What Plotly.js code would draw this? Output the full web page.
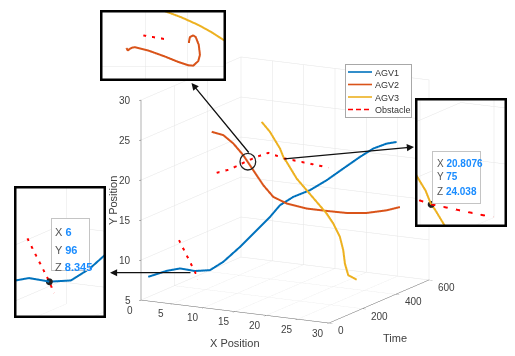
<!DOCTYPE html>
<html><head><meta charset="utf-8">
<script src="https://cdn.plot.ly/plotly-3.0.1.min.js"></script>
<style>html,body{margin:0;padding:0;background:#fff}#chart{width:515px;height:356px}</style>
</head><body><div id="chart"></div>
<script>
// ---------------- data (x = X Position, t = Time, y = Y Position) ----------------
const agv1_x = [1.16,3.09,4.47,5.53,6.0,7.45,8.66,10.24,11.79,13.03,13.96,15.2,16.75,18.33,19.86,21.42,22.65,23.9,24.83];
const agv1_t = [0,38,66,86,96,134,168,209,251,284,309,342,384,425,467,508,542,575,600];
const agv1_y = [8.02,8.61,8.79,8.50,8.345,8.25,9.10,10.75,12.61,14.09,15.42,16.28,16.89,17.92,19.15,20.38,21.24,21.68,21.75];

const agv2_x = [11.28,12.14,12.89,13.63,14.37,15.15,15.89,16.91,18.4,19.89,21.37,22.86,24.38,25.36];
const agv2_t = [0,37,69,101,133,164,196,238,302,366,430,494,557,600];
const agv2_y = [27.11,26.45,25.19,23.51,21.42,19.34,17.66,16.55,15.49,14.76,14.07,13.64,13.55,13.67];

const agv3_x = [19.25,20.02,20.71,20.81,20.95,21.22,21.88,22.55,23.21,23.47,23.44,22.91,22.11,21.71,22.7];
const agv3_t = [0,21,55,75,86,136,171,206,241,271,312,352,392,427,440];
const agv3_y = [29.12,27.75,25.44,24.04,23.5,21.0,19.29,17.58,15.87,14.38,12.33,10.26,8.16,6.35,5.78];

const obsA_x = [3.51,6.0,6.54];
const obsA_t = [96,96,96];
const obsA_y = [11.97,8.345,7.38];
const obsB_x = [12.07,13.66,15.39,17.12,18.71,20.81,26.68];
const obsB_t = [0,20,35,50,60,75,120];
const obsB_y = [22.06,22.46,23.31,24.09,24.65,24.04,23.04];

// data tips
const tip_x = [6, 20.8076];
const tip_t = [96, 75];
const tip_y = [8.345, 24.038];
const tip_xlabel = ['6', '20.8076'];
const tip_tlabel = ['96', '75'];
const tip_ylabel = ['8.345', '24.038'];

// zoomed detail (top inset) around the AGV2 / obstacle crossing
const zoom_agv2_x = [13.55,13.58,13.63,13.69,13.75,14.07,14.46,14.78,15.02,15.14,15.26,15.30,15.27,15.20,15.14,15.06,15.04,15.04];
const zoom_agv2_t = [20,22,24,26,28,32,38,44,50,53,56,59,62,65,68,71,74,77];
const zoom_agv2_y = [23.44,23.38,23.42,23.45,23.46,23.38,23.24,23.11,23.03,23.02,23.13,23.28,23.52,23.70,23.74,23.70,23.60,23.56];
const zoom_agv3_x = [14.35,14.46,14.86,15.26,15.57,15.85,16.02];
const zoom_agv3_t = [60,62,64,66,68,70,72];
const zoom_agv3_y = [24.37,24.32,24.17,23.99,23.82,23.64,23.54];
const zoom_obs_x = [13.95,14.54];
const zoom_obs_t = [35,35];
const zoom_obs_y = [23.74,23.64];

// axes ticks
const xTicks = [0,5,10,15,20,25,30];
const tTicks = [0,200,400,600];
const yTicks = [5,10,15,20,25,30];

const names = ['AGV1','AGV2','AGV3','Obstacle'];
const colors = ['#0072BD','#D95319','#EDB120','#FF0000'];

// ---------------- geometry / layout helpers ----------------
const W = 515, H = 356;
const F_PER_H = 0.5;                      // orthographic: px per aspect unit / domain height
const MAIN_PX = {x:213, y:213, z:205.5};  // on-screen edge lengths of the main box
const mainDom = {x:[55,515], y:[24,356]};
const mainH = mainDom.y[1]-mainDom.y[0];
const mainAspect = {x:MAIN_PX.x/(F_PER_H*mainH), y:MAIN_PX.y/(F_PER_H*mainH), z:MAIN_PX.z/(F_PER_H*mainH)};
const eyeDir = [0.457,-0.859,0.229];
function eye(d){return {x:eyeDir[0]*d, y:eyeDir[1]*d, z:eyeDir[2]*d};}
function dom(px){return {x:[px.x[0]/W, px.x[1]/W], y:[1-px.y[1]/H, 1-px.y[0]/H]};}
function insetAspect(zoom, sx, st, sz, h){
  return {x: zoom*MAIN_PX.x*(sx/30)/(F_PER_H*h), y: zoom*MAIN_PX.y*(st/600)/(F_PER_H*h), z: zoom*MAIN_PX.z*(sz/25)/(F_PER_H*h)};
}
const FAM = 'Liberation Sans, Arial, sans-serif';
const tickFont = {family:FAM, size:10, color:'#404040'};
const titleFont = {family:FAM, size:11, color:'#404040'};
const LW = 4;

function mainAxis(range, tickvals){
  return {range:range, autorange:false, tickmode:'array', tickvals:tickvals, showgrid:true, gridcolor:'#e4e4e4', gridwidth:1,
    showline:true, linecolor:'#666', linewidth:1, ticks:'outside', ticklen:4, tickcolor:'#666', tickwidth:1,
    showticklabels:false, zeroline:false, showbackground:false, showspikes:false, title:{text:''}};
}
function insetAxis(range, tickvals, grid){
  return {range:range, autorange:false, tickmode:'array', tickvals:tickvals, showgrid:grid!==false, gridcolor:'#e4e4e4', gridwidth:1,
    showline:false, ticks:'', showticklabels:false, zeroline:false, showbackground:false, showspikes:false, title:{text:''}};
}

// ---------------- traces ----------------
// meta.dashN = number of dash periods along the whole dashed line (dash length styling)
const traces = [];
function addSeries(scene, legend, nA, nB){
  const base = {type:'scatter3d', mode:'lines', scene:scene, hoverinfo:'skip', showlegend:legend};
  traces.push(Object.assign({}, base, {name:names[0], x:agv1_x, y:agv1_t, z:agv1_y, line:{color:colors[0], width:LW}}));
  traces.push(Object.assign({}, base, {name:names[1], x:agv2_x, y:agv2_t, z:agv2_y, line:{color:colors[1], width:LW}}));
  traces.push(Object.assign({}, base, {name:names[2], x:agv3_x, y:agv3_t, z:agv3_y, line:{color:colors[2], width:LW}}));
  traces.push(Object.assign({}, base, {name:names[3], meta:{dashN:nA}, x:obsA_x, y:obsA_t, z:obsA_y, line:{color:colors[3], width:LW, dash:'longdash'}}));
  traces.push(Object.assign({}, base, {name:names[3], meta:{dashN:nB}, showlegend:false, x:obsB_x, y:obsB_t, z:obsB_y, line:{color:colors[3], width:LW, dash:'longdash'}}));
}
addSeries('scene', true, 5, 13);
addSeries('scene2', false, 7, 13);
addSeries('scene3', false, 5, 13);
traces.push({type:'scatter3d', mode:'markers', scene:'scene2', showlegend:false, hoverinfo:'skip', x:[tip_x[0]], y:[tip_t[0]], z:[tip_y[0]], marker:{size:4, color:'#222'}});
traces.push({type:'scatter3d', mode:'markers', scene:'scene3', showlegend:false, hoverinfo:'skip', x:[tip_x[1]], y:[tip_t[1]], z:[tip_y[1]], marker:{size:4, color:'#222'}});
traces.push({type:'scatter3d', mode:'lines', scene:'scene4', showlegend:false, hoverinfo:'skip', x:zoom_agv3_x, y:zoom_agv3_t, z:zoom_agv3_y, line:{color:colors[2], width:LW}});
traces.push({type:'scatter3d', mode:'lines', scene:'scene4', showlegend:false, hoverinfo:'skip', meta:{dashN:2.8}, x:zoom_obs_x, y:zoom_obs_t, z:zoom_obs_y, line:{color:colors[3], width:LW, dash:'longdash'}});
traces.push({type:'scatter3d', mode:'lines', scene:'scene4', showlegend:false, hoverinfo:'skip', x:zoom_agv2_x, y:zoom_agv2_t, z:zoom_agv2_y, line:{color:colors[1], width:LW}});

// ---------------- scene annotations (tick labels & titles) ----------------
const sceneAnn = [];
xTicks.forEach(v => sceneAnn.push({x:v, y:0, z:5, text:String(v), showarrow:false, xshift:-11, yshift:-10, font:tickFont}));
yTicks.forEach(v => sceneAnn.push({x:0, y:0, z:v, text:String(v), showarrow:false, xanchor:'right', xshift:-8, font:tickFont}));
tTicks.forEach(v => sceneAnn.push({x:30, y:v, z:5, text:String(v), showarrow:false, xanchor:'left', xshift:7, yshift:-7.5, font:tickFont}));
sceneAnn.push({x:15, y:0, z:5, text:'X Position', showarrow:false, yshift:-31, font:titleFont});
sceneAnn.push({x:30, y:300, z:5, text:'Time', showarrow:false, xshift:16, yshift:-37, font:titleFont});
sceneAnn.push({x:0, y:0, z:17.5, text:'Y Position', showarrow:false, xshift:-28, textangle:-90, font:titleFont});

// ---------------- paper annotations ----------------
const ann = [];
function box(x0,y0,x1,y1,bw,color,bg){
  ann.push({xref:'paper', yref:'paper', x:(x0+x1)/2/W, y:1-(y0+y1)/2/H, xanchor:'center', yanchor:'middle', text:' ',
    width:x1-x0-2*bw, height:y1-y0-2*bw, borderwidth:bw, bordercolor:color, bgcolor:bg, borderpad:0, showarrow:false});
}
box(14,186,106,318,2.5,'#000','rgba(0,0,0,0)');
box(415,98,507,227,2.5,'#000','rgba(0,0,0,0)');
box(100,10,226,81,2.5,'#000','rgba(0,0,0,0)');
box(50.5,218,89.5,271,1,'#c4c4c4','rgba(255,255,255,0.96)');
box(432.5,151,481,203.5,1,'#c4c4c4','rgba(255,255,255,0.96)');
function tipText(x, y, label, val, size){
  ann.push({xref:'paper', yref:'paper', x:x/W, y:1-y/H, xanchor:'left', yanchor:'middle', showarrow:false,
    text: label+' <span style="color:#1a8cff"><b>'+val+'</b></span>', font:{family:FAM, size:size, color:'#555'}});
}
tipText(53,232.5,'X',tip_xlabel[0],11); tipText(53,250,'Y',tip_tlabel[0],11); tipText(53,266.5,'Z',tip_ylabel[0],11);
tipText(435,163.5,'X',tip_xlabel[1],10); tipText(435,177,'Y',tip_tlabel[1],10); tipText(435,191.5,'Z',tip_ylabel[1],10);
function arrow(hx,hy,tx,ty){
  ann.push({xref:'paper', yref:'paper', x:hx/W, y:1-hy/H, ax:tx-hx, ay:ty-hy, axref:'pixel', ayref:'pixel', text:'',
    showarrow:true, arrowhead:2, arrowsize:1.1, arrowwidth:1.3, arrowcolor:'#111', standoff:0});
}
arrow(191.5,83,250,154);
arrow(414,147,283,159);
arrow(110,272.7,192,272.7);

// ---------------- layout ----------------
const leftDom = {x:[16,104], y:[188,316]};
const rightDom = {x:[417,505], y:[100,225]};
const topDom = {x:[102,224], y:[12,79]};
const ortho = {type:'orthographic'};
const topH = topDom.y[1]-topDom.y[0];

const layout = {
  width:W, height:H, margin:{l:0,r:0,t:0,b:0}, paper_bgcolor:'#fff',
  font:{family:FAM, color:'#404040'},
  showlegend:true,
  legend:{x:345/W, y:1-64/H, xanchor:'left', yanchor:'top', bgcolor:'#fff', bordercolor:'#a8a8a8', borderwidth:1,
    font:{size:9, color:'#333'}, itemwidth:30, tracegroupgap:0},
  scene:{domain:dom(mainDom), aspectmode:'manual', aspectratio:mainAspect,
    camera:{eye:eye(6), up:{x:0,y:0,z:1}, center:{x:0,y:0,z:0}, projection:ortho},
    xaxis:mainAxis([0,30], xTicks), yaxis:mainAxis([0,600], tTicks), zaxis:mainAxis([5,30], yTicks),
    annotations:sceneAnn, bgcolor:'rgba(0,0,0,0)', dragmode:false},
  scene2:{domain:dom(leftDom), aspectmode:'manual', aspectratio:insetAspect(1.4,16,600,16,leftDom.y[1]-leftDom.y[0]),
    camera:{eye:eye(20), up:{x:0,y:0,z:1}, center:{x:0,y:0,z:0}, projection:ortho},
    xaxis:insetAxis([-0.78,15.22],[0,5,10,15]), yaxis:insetAxis([-204,396],[0,200]), zaxis:insetAxis([3.11,19.11],[5,10,15]),
    bgcolor:'#fff', dragmode:false},
  scene3:{domain:dom(rightDom), aspectmode:'manual', aspectratio:insetAspect(1.4,16,600,16,rightDom.y[1]-rightDom.y[0]),
    camera:{eye:eye(20), up:{x:0,y:0,z:1}, center:{x:0,y:0,z:0}, projection:ortho},
    xaxis:insetAxis([16.22,32.22],[20,25,30]), yaxis:insetAxis([-225,375],[0,200]), zaxis:insetAxis([20.1,36.1],[25,30,35]),
    bgcolor:'#fff', dragmode:false},
  scene4:{domain:dom(topDom), aspectmode:'manual',
    aspectratio:{x:42*4/(F_PER_H*topH), y:1, z:42*4/(F_PER_H*topH)},
    camera:{eye:{x:0,y:-20,z:0}, up:{x:0,y:0,z:1}, center:{x:0,y:0,z:0}, projection:ortho},
    xaxis:insetAxis([12.42,16.42],[14,15]), yaxis:insetAxis([0,600],[],false), zaxis:insetAxis([21.5,25.5],[23]),
    bgcolor:'#fff', dragmode:false},
  annotations:ann,
  shapes:[{type:'circle', xref:'paper', yref:'paper', x0:240/W, x1:255.7/W, y0:1-170/H, y1:1-153.3/H, line:{color:'#222', width:1.3}}]
};

Plotly.newPlot('chart', traces, layout, {displayModeBar:false}).then(function(gd){
  // dash length: number of dash periods per dashed line (from trace meta)
  ['scene','scene2','scene3','scene4'].forEach(function(id){
    try {
      const sc = gd._fullLayout[id]._scene;
      Object.keys(sc.traces).forEach(function(k){
        const tr = sc.traces[k];
        const m = tr.data && tr.data.meta;
        if (m && m.dashN && tr.linePlot) tr.linePlot.dashScale = m.dashN;
      });
      sc.glplot.redraw();
    } catch(e) {}
  });
  // compact legend rows to match the reference spacing
  try {
    const leg = gd.querySelector('g.legend');
    const items = Array.from(leg.querySelectorAll('g.traces'));
    const step = 12.5, top = 8;
    items.forEach(function(it, i){
      it.setAttribute('transform', 'translate(0,' + (top + i*step) + ')');
      const tx = it.querySelector('text.legendtext');
      const isObs = tx && tx.textContent.indexOf('Obstacle') >= 0;
      it.querySelectorAll('path.js-line').forEach(function(p){
        p.setAttribute('d', 'M3,0h24');
        p.style.strokeWidth = '1.6px';
        if (isObs) p.style.strokeDasharray = '5px,3px';
      });
      if (tx) tx.setAttribute('x', 30);
    });
    const bg = leg.querySelector('rect.bg');
    bg.setAttribute('width', 66); bg.setAttribute('height', 2*top + step*(items.length-1) - 1);
  } catch(e) {}
});
</script></body></html>
